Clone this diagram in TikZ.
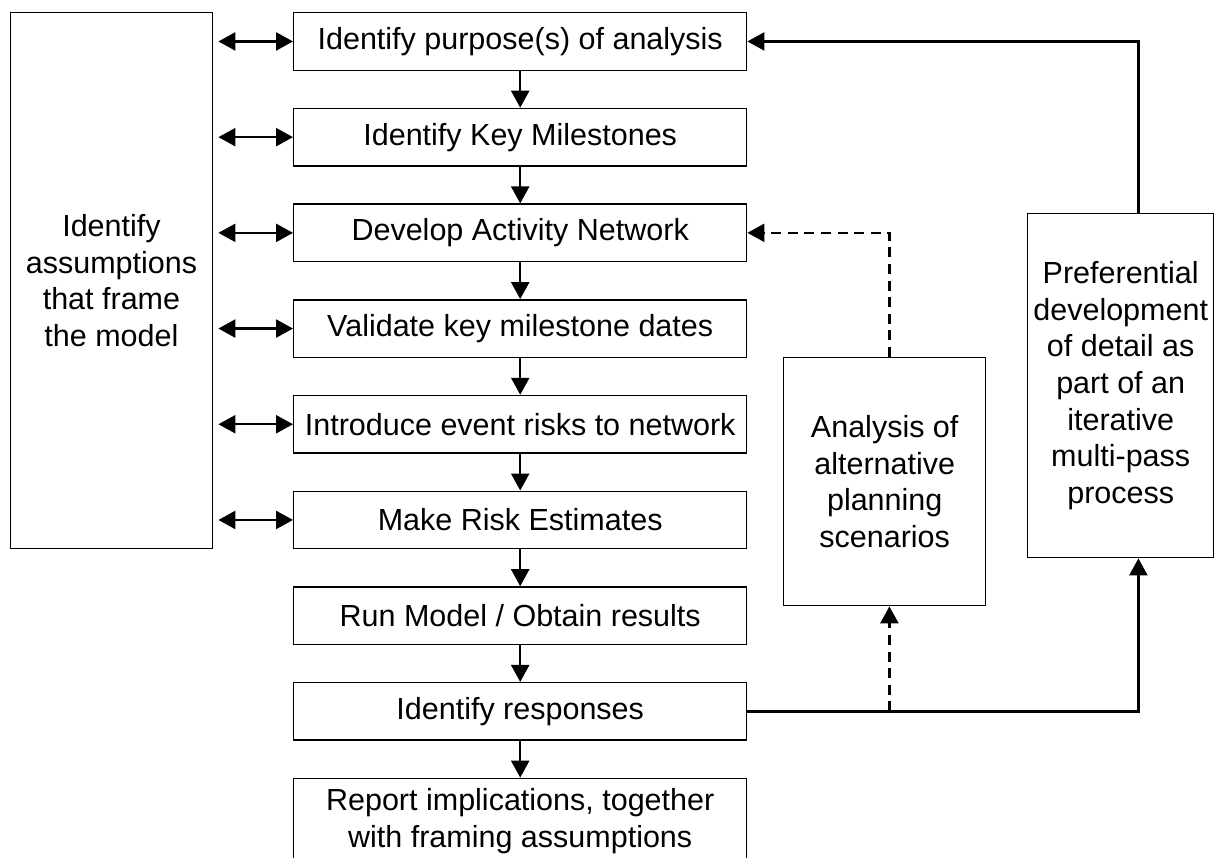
\documentclass[tikz,border=0pt]{standalone}
\usepackage{fontspec}
\setmainfont{Liberation Sans}
\usetikzlibrary{arrows.meta,calc}
\begin{document}
\begin{tikzpicture}[x=0.5pt,y=-0.5pt,
  box/.style={draw, line width=0.7pt, inner sep=0pt, align=center,
    font=\fontsize{15.25}{18.3}\selectfont, anchor=north west},
  mainbox/.style={box, minimum width=226.5pt, minimum height=28.75pt},
  tip/.tip={Triangle[length=8.5pt,width=9pt]},
  conn/.style={line width=1.2pt, -tip},
  bidir/.style={line width=1.2pt, tip-tip},
  dconn/.style={conn, dash pattern=on 5pt off 3.3pt}]
\useasboundingbox (0,0) rectangle (1225,857);
\clip (0,0) rectangle (1225,857);

\node[mainbox] (B1) at (293,12)    {Identify purpose(s) of analysis};
\node[mainbox] (B2) at (293,107.7) {Identify Key Milestones};
\node[mainbox] (B3) at (293,203.4) {Develop Activity Network};
\node[mainbox] (B4) at (293,299.1) {Validate key milestone dates};
\node[mainbox] (B5) at (293,394.8) {Introduce event risks to network};
\node[mainbox] (B6) at (293,490.5) {Make Risk Estimates};
\node[mainbox] (B7) at (293,586.2) {Run Model / Obtain results};
\node[mainbox] (B8) at (293,681.9) {Identify responses};
\node[box, minimum width=226.5pt, minimum height=42.5pt] (B9) at (293,777.6)
  {Report implications, together\\with framing assumptions};

\node[box, minimum width=100.75pt, minimum height=268pt] (L) at (10,12)
  {Identify\\assumptions\\that frame\\the model};
\node[box, minimum width=101pt, minimum height=124pt] (A) at (783,357)
  {Analysis of\\alternative\\planning\\scenarios};
\node[box, minimum width=93pt, minimum height=172pt] (P) at (1027,213)
  {Preferential\\development\\of detail as\\part of an\\iterative\\multi-pass\\process};

\foreach \a/\b in {B1/B2,B2/B3,B3/B4,B4/B5,B5/B6,B6/B7,B7/B8,B8/B9}
  \draw[conn] (\a.south) -- (\b.north);

\foreach \b in {B1,B2,B3,B4,B5,B6}
  \draw[bidir, shorten <=2.75pt] (L.east |- \b.west) -- (\b.west);

\coordinate (ja) at ($(A.south)+(4.7,0)$);
\coordinate (jat) at ($(A.north)+(4.7,0)$);
\coordinate (jp) at ($(P.south)+(17.7,0)$);
\coordinate (jpt) at ($(P.north)+(17.7,0)$);

\draw[conn] (B8.east) -| (jp);
\draw[dconn] (ja |- B8.east) -- (ja);
\draw[dconn] (jat) |- (B3.east);
\draw[conn] (jpt) |- (B1.east);
\end{tikzpicture}
\end{document}
